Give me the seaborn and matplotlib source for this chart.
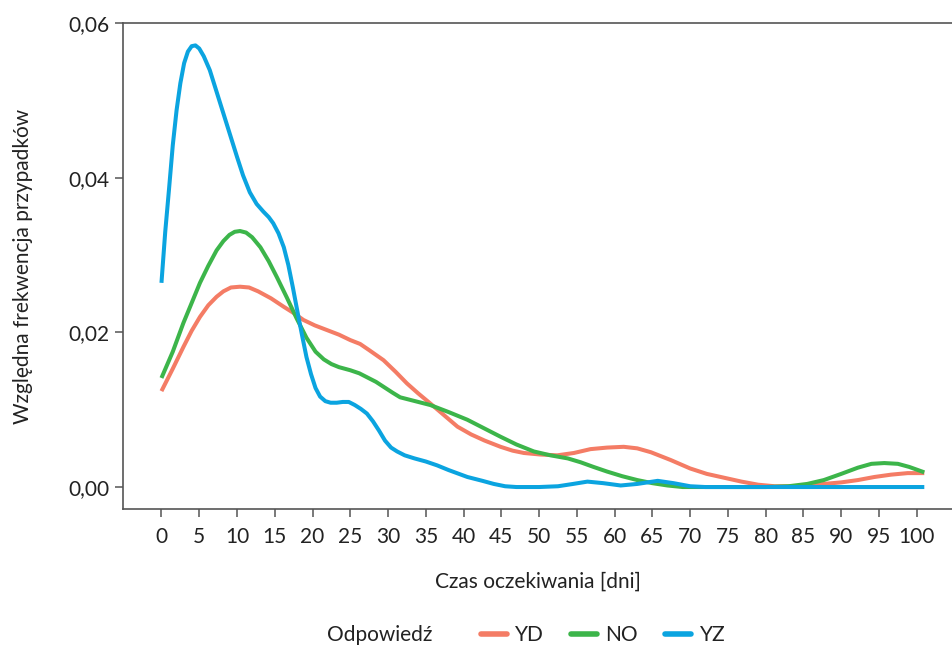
import matplotlib
matplotlib.use("Agg")
import matplotlib.pyplot as plt
import matplotlib.ticker as mticker
from matplotlib.lines import Line2D
import pandas as pd
import seaborn as sns

# wartości (czas oczekiwania [dni] -> względna frekwencja)
yd_days = [0, 1.5, 2.9, 4, 5.1, 6.2, 7.3, 8.2, 9.2, 10.4, 11.6, 12.8, 14.5, 16.2,
           17.5, 18.8, 20.3, 21.9, 23.5, 25, 26.3, 27.5, 29.4, 31, 32.5, 34, 35.6,
           37.4, 39.2, 41, 42.8, 44.9, 46.5, 48, 50.2, 52.4, 54.6, 56.8, 59, 61.2,
           63, 64.8, 67.4, 70, 72.2, 74.5, 76.8, 79, 81.2, 83.4, 85.5, 87.7, 90,
           92.2, 94.4, 96.6, 98.8, 101]
yd_freq = [0.0124, 0.0153, 0.0181, 0.0202, 0.0220, 0.0235, 0.0246, 0.0253, 0.0258,
           0.0259, 0.0258, 0.0253, 0.0244, 0.0233, 0.0225, 0.0216, 0.0209, 0.0203,
           0.0197, 0.0190, 0.0185, 0.0177, 0.0164, 0.0149, 0.0134, 0.0121, 0.0108,
           0.0093, 0.0078, 0.0068, 0.0060, 0.0052, 0.0047, 0.0044, 0.0042, 0.0041,
           0.0044, 0.0049, 0.0051, 0.0052, 0.0050, 0.0045, 0.0035, 0.0024, 0.0017,
           0.0012, 0.0007, 0.0003, 0.0001, 0.0001, 0.0002, 0.0004, 0.0006, 0.0009,
           0.0013, 0.0016, 0.0018, 0.0018]

no_days = [0, 1.5, 2.9, 4, 5.1, 6.2, 7.3, 8.2, 9, 9.7, 10.4, 11.2, 12, 13.1, 14.2,
           15.3, 16.6, 17.9, 19.2, 20.4, 21.5, 22.5, 23.5, 25, 26.2, 27.2, 28.4,
           29.5, 30.6, 31.6, 33.6, 35.6, 38, 40.5, 42.7, 44.9, 47, 49.3, 51.5, 53.8,
           55.5, 57.2, 59, 61, 63, 65, 67, 69, 80, 83, 85.5, 87.7, 90, 92.2, 94,
           95.7, 97.5, 99, 101]
no_freq = [0.0141, 0.0175, 0.0212, 0.0238, 0.0264, 0.0286, 0.0306, 0.0318, 0.0326,
           0.0330, 0.0331, 0.0329, 0.0323, 0.0310, 0.0292, 0.0271, 0.0245, 0.0218,
           0.0193, 0.0175, 0.0165, 0.0159, 0.0155, 0.0151, 0.0147, 0.0142, 0.0136,
           0.0129, 0.0122, 0.0116, 0.0111, 0.0106, 0.0097, 0.0087, 0.0076, 0.0065,
           0.0055, 0.0046, 0.0041, 0.0037, 0.0032, 0.0026, 0.0020, 0.0014, 0.0009,
           0.0005, 0.0002, 0.0, 0.0, 0.0001, 0.0004, 0.0009, 0.0017, 0.0025, 0.0030,
           0.0031, 0.0030, 0.0026, 0.0019]

yz_days = [0, 0.5, 1, 1.5, 2, 2.5, 3, 3.5, 4, 4.5, 5, 5.6, 6.4, 7.3, 8.2, 9.1, 10,
           10.8, 11.7, 12.6, 13.5, 14.2, 14.8, 15.5, 16.2, 16.8, 17.4, 18, 18.6,
           19.2, 19.8, 20.4, 21, 21.7, 22.4, 23.2, 24, 24.8, 25.6, 26.4, 27.2, 28,
           28.8, 29.6, 30.4, 31.2, 32.2, 33.5, 35, 36.5, 38, 40.5, 42.5, 44, 45.5,
           47, 50, 52.5, 54.5, 56.4, 58.5, 60.8, 63, 65.7, 67.8, 70, 72, 101]
yz_freq = [0.0264, 0.0330, 0.0385, 0.0442, 0.0487, 0.0522, 0.0548, 0.0563, 0.0570,
           0.0571, 0.0567, 0.0557, 0.0539, 0.0511, 0.0483, 0.0455, 0.0427, 0.0403,
           0.0381, 0.0366, 0.0356, 0.0349, 0.0341, 0.0328, 0.0310, 0.0287, 0.0258,
           0.0227, 0.0197, 0.0168, 0.0146, 0.0128, 0.0117, 0.0111, 0.0109, 0.0109,
           0.0110, 0.0110, 0.0106, 0.0101, 0.0095, 0.0085, 0.0073, 0.0060, 0.0051,
           0.0046, 0.0041, 0.0037, 0.0033, 0.0028, 0.0022, 0.0013, 0.0008, 0.0004,
           0.0001, 0.0, 0.0, 0.0001, 0.0004, 0.0007, 0.0005, 0.0002, 0.0004, 0.0008,
           0.0005, 0.0001, 0.0, 0.0]

answers = ["YD", "NO", "YZ"]
colors = {"YD": "#f47c65", "NO": "#3cb54a", "YZ": "#0ba4e0"}

df = pd.concat([
    pd.DataFrame({"dni": yd_days, "freq": yd_freq, "odp": "YD"}),
    pd.DataFrame({"dni": no_days, "freq": no_freq, "odp": "NO"}),
    pd.DataFrame({"dni": yz_days, "freq": yz_freq, "odp": "YZ"}),
], ignore_index=True)

sns.set_theme(style="ticks")
plt.rcParams["font.family"] = ["Lato", "DejaVu Sans"]
FS = 15

fig = plt.figure(figsize=(9.53, 6.47), dpi=100)
ax = fig.add_axes([0.129, 0.2133, 0.871, 0.7512])

sns.lineplot(data=df, x="dni", y="freq", hue="odp", hue_order=answers,
             palette=colors, linewidth=2.9, estimator=None, sort=False,
             legend=False, ax=ax, solid_capstyle="butt", solid_joinstyle="round")

ax.set_xlim(-5.1, 104.8)
ax.set_ylim(-0.00284, 0.06)
ax.set_xticks(range(0, 101, 5))
ax.set_yticks([0, 0.02, 0.04, 0.06])
ax.yaxis.set_major_formatter(mticker.FuncFormatter(lambda v, _: f"{v:.2f}".replace(".", ",")))

for side in ["left", "bottom", "top"]:
    ax.spines[side].set_color("#555555")
    ax.spines[side].set_linewidth(1.2)
ax.spines["right"].set_visible(False)
ax.tick_params(axis="both", length=6, width=1.1, color="#555555",
               labelsize=FS, labelcolor="#222222")
ax.tick_params(axis="x", pad=7)
ax.tick_params(axis="y", pad=4)

ax.set_xlabel("Czas oczekiwania [dni]", fontsize=FS, color="#222222", labelpad=18)
ax.set_ylabel("Względna frekwencja przypadków", fontsize=FS, color="#222222", labelpad=25)

# legenda pod wykresem
fig.text(327 / 953, 1 - 635 / 647, "Odpowiedź", fontsize=FS, color="#222222",
         ha="left", va="center")
handles = [Line2D([], [], color=colors[a], linewidth=4) for a in answers]
fig.legend(handles, answers, loc="center", bbox_to_anchor=(603 / 953, 1 - 635 / 647),
           ncol=3, frameon=False, fontsize=FS, handlelength=1.25,
           handletextpad=0.4, columnspacing=1.3, labelcolor="#222222")

fig.savefig("out.png", dpi=100)
